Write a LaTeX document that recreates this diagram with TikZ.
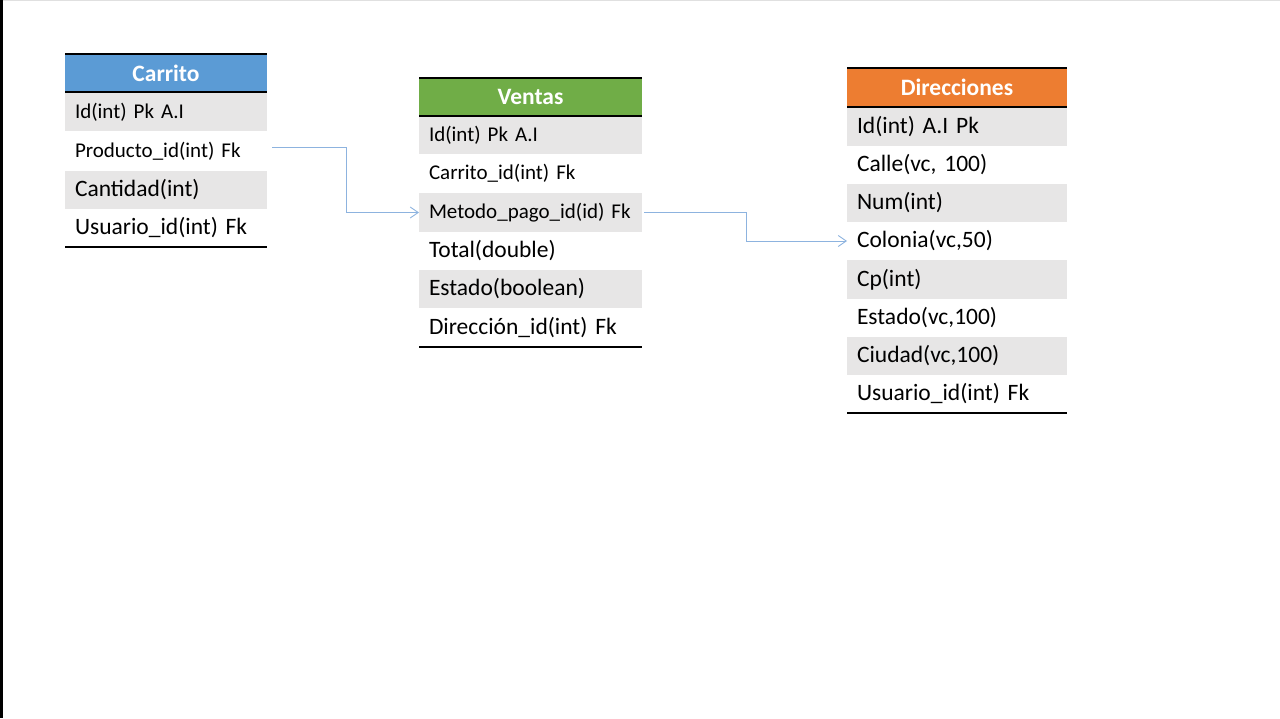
\documentclass[tikz,border=0pt]{standalone}
\usepackage{fontspec}
\setmainfont{Carlito}
\usetikzlibrary{arrows.meta}
\definecolor{cblue}{HTML}{5B9BD5}
\definecolor{cgreen}{HTML}{70AD47}
\definecolor{corange}{HTML}{ED7D31}
\definecolor{rowgray}{HTML}{E7E6E6}
\definecolor{connblue}{HTML}{8DB3DF}
\begin{document}
\begin{tikzpicture}[x=1pt,y=-1pt,
  tbl/.style={anchor=north west, inner xsep=10pt, inner ysep=0pt, align=left, outer sep=0pt},
  carw/.style={text width=182pt},
  venw/.style={text width=203pt},
  dirw/.style={text width=200pt},
  hdr/.style={align=center, text=white, font=\bfseries\fontsize{23.5}{28}\selectfont},
  sm/.style={font=\fontsize{21}{25}\selectfont},
  lg/.style={font=\fontsize{23.5}{28}\selectfont},
  gr/.style={fill=rowgray},
  hline/.style={line width=2pt, black},
  conn/.style={line width=0.9pt, connblue, -{Straight Barb[length=8pt,width=11pt,line width=0.9pt]}}
]
\useasboundingbox (0,0) rectangle (1280,718);
\draw[black!12, line width=1pt] (0,0.5) -- (1280,0.5);
\draw[black, line width=2.5pt] (1.25,0) -- (1.25,718);

% Carrito
\node[tbl,carw,hdr,fill=cblue,minimum height=38pt] (ch) at (65,54) {Carrito};
\node[tbl,carw,sm,gr,minimum height=38pt] (c1) at (65,93) {Id(int) Pk A.I};
\node[tbl,carw,sm,minimum height=40pt] (c2) at (65,131) {Producto\_id(int) Fk};
\node[tbl,carw,lg,gr,minimum height=38pt] (c3) at (65,171) {Cantidad(int)};
\node[tbl,carw,lg,minimum height=38pt] (c4) at (65,209) {Usuario\_id(int) Fk};
\draw[hline] (ch.north west) -- (ch.north east);
\draw[hline] (ch.south west) -- (ch.south east);
\draw[hline] (c4.south west) -- (c4.south east);

% Ventas
\node[tbl,venw,hdr,fill=cgreen,minimum height=38pt] (vh) at (419,78) {Ventas};
\node[tbl,venw,sm,gr,minimum height=38pt] (v1) at (419,116) {Id(int) Pk A.I};
\node[tbl,venw,sm,minimum height=39pt] (v2) at (419,154) {Carrito\_id(int) Fk};
\node[tbl,venw,sm,gr,minimum height=39pt] (v3) at (419,193) {Metodo\_pago\_id(id) Fk};
\node[tbl,venw,lg,minimum height=38pt] (v4) at (419,232) {Total(double)};
\node[tbl,venw,lg,gr,minimum height=38pt] (v5) at (419,270) {Estado(boolean)};
\node[tbl,venw,lg,minimum height=39pt] (v6) at (419,308) {Dirección\_id(int) Fk};
\draw[hline] (vh.north west) -- (vh.north east);
\draw[hline] (vh.south west) -- (vh.south east);
\draw[hline] (v6.south west) -- (v6.south east);

% Direcciones
\node[tbl,dirw,hdr,fill=corange,minimum height=39pt] (dh) at (847,68) {Direcciones};
\node[tbl,dirw,lg,gr,minimum height=39pt] (d1) at (847,107) {Id(int) A.I Pk};
\node[tbl,dirw,lg,minimum height=38pt] (d2) at (847,146) {Calle(vc, 100)};
\node[tbl,dirw,lg,gr,minimum height=38pt] (d3) at (847,184) {Num(int)};
\node[tbl,dirw,lg,minimum height=38pt] (d4) at (847,222) {Colonia(vc,50)};
\node[tbl,dirw,lg,gr,minimum height=39pt] (d5) at (847,260) {Cp(int)};
\node[tbl,dirw,lg,minimum height=38pt] (d6) at (847,299) {Estado(vc,100)};
\node[tbl,dirw,lg,gr,minimum height=38pt] (d7) at (847,337) {Ciudad(vc,100)};
\node[tbl,dirw,lg,minimum height=38pt] (d8) at (847,375) {Usuario\_id(int) Fk};
\draw[hline] (dh.north west) -- (dh.north east);
\draw[hline] (dh.south west) -- (dh.south east);
\draw[hline] (d8.south west) -- (d8.south east);

% connectors
\draw[conn] ([xshift=5pt,yshift=4pt]c2.east) -- ++(74,0) |- (v3.west);
\draw[conn] ([xshift=2pt]v3.east) -- ++(102,0) |- (d4.west);
\end{tikzpicture}
\end{document}
